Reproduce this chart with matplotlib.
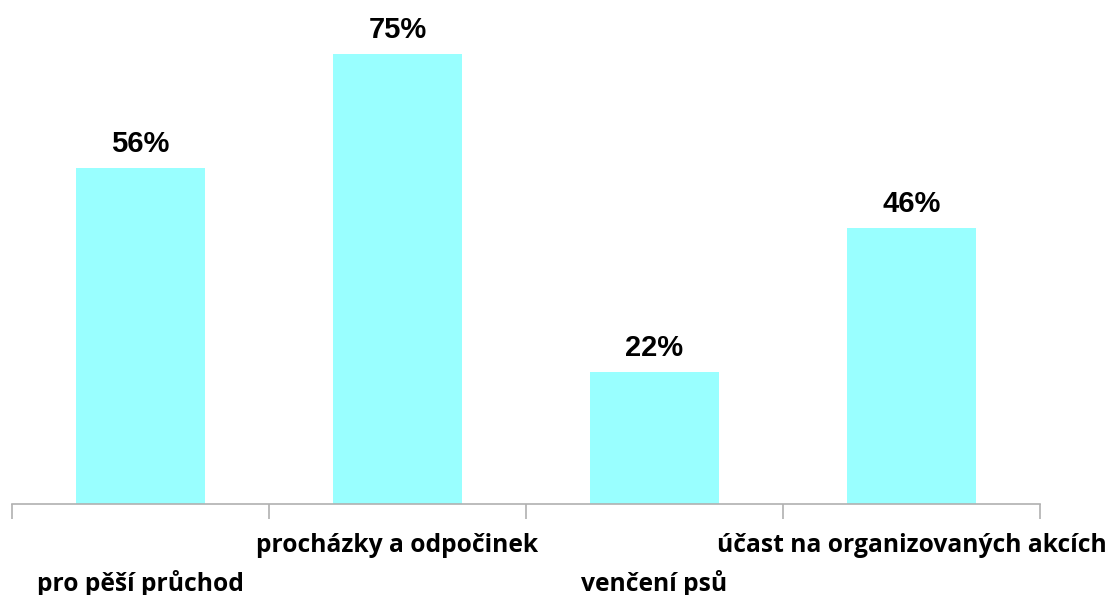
import matplotlib
matplotlib.use('Agg')
import matplotlib.pyplot as plt

# data
categories = ["pro pěší průchod", "procházky a odpočinek", "venčení psů",
              "účast na organizovaných akcích"]
values = [56, 75, 22, 46]
value_labels = ["56%", "75%", "22%", "46%"]

bar_color = "#99FFFF"
axis_color = "#B0B0B0"

fig = plt.figure(figsize=(11.12, 5.95), dpi=100)
ax = fig.add_axes([12/1112, 91/595, 1028/1112, 480/595])

x = list(range(len(categories)))
bars = ax.bar(x, values, width=0.5, color=bar_color)

ax.set_xlim(-0.5, len(categories) - 0.5)
ax.set_ylim(0, 80)

for s in ["top", "right", "left"]:
    ax.spines[s].set_visible(False)
ax.spines["bottom"].set_color(axis_color)
ax.spines["bottom"].set_linewidth(1.2)

ax.set_yticks([])
ax.set_xticks([i - 0.5 for i in range(len(categories) + 1)])
ax.set_xticklabels([])
ax.tick_params(axis="x", direction="out", length=11, width=1.2, color=axis_color)

# value labels above bars
for xi, v, lab in zip(x, values, value_labels):
    ax.annotate(lab, (xi, v), xytext=(0, 7), textcoords="offset points",
                ha="center", va="bottom", fontsize=21, fontweight="bold",
                family="Liberation Sans")

# staggered category labels
for xi, lab in zip(x, categories):
    off = -30 if xi % 2 == 1 else -57
    ax.annotate(lab, (xi, 0), xycoords=("data", "axes fraction"),
                xytext=(0, off), textcoords="offset points",
                ha="center", va="center", fontsize=17.7, fontweight="bold",
                family="Open Sans")

fig.savefig("out.png", dpi=100)
